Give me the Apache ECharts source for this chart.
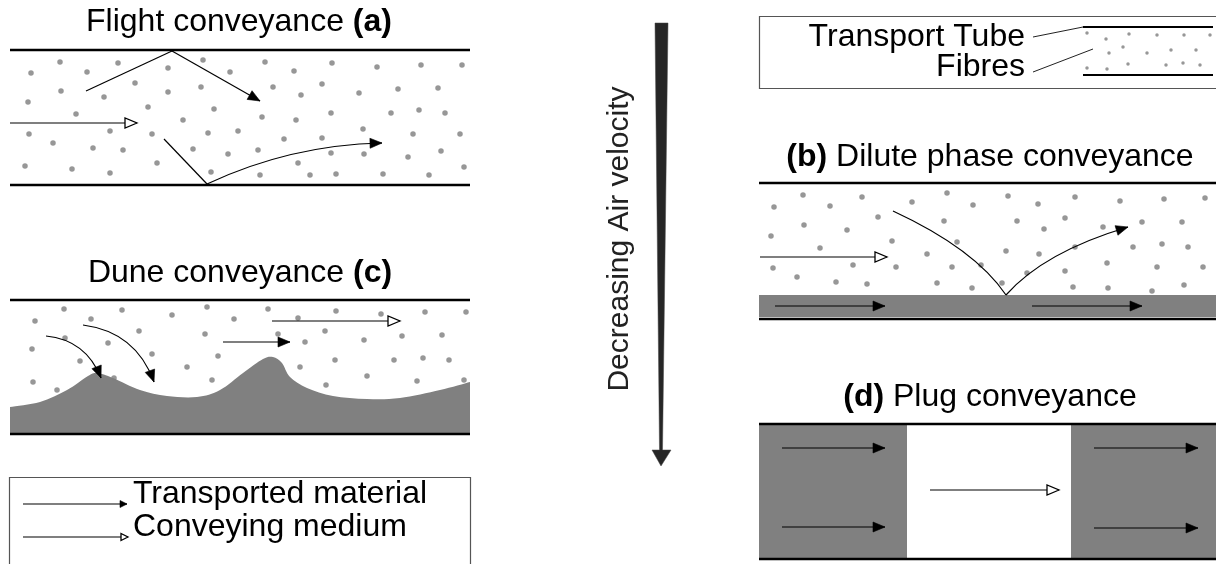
<!DOCTYPE html>
<html>
<head>
<meta charset="utf-8">
<script src="https://cdn.jsdelivr.net/npm/echarts@6/dist/echarts.min.js"></script>
<style>
  html, body { margin: 0; padding: 0; background: #fff; }
  #charts { width: 1216px; height: 564px; }
</style>
</head>
<body>
<div id="charts"></div>
<script>
// diagram coordinates: x to the right, y downwards (picture units)
const tubeWalls = [
    [10, 50, 470, 50], [10, 185, 470, 185],        // (a)
    [10, 300, 470, 300], [10, 434, 470, 434],      // (c)
    [759, 183, 1216, 183], [759, 319, 1216, 319],  // (b)
    [759, 424, 1216, 424], [759, 559, 1216, 559]   // (d)
];
const keyWalls = [[1083, 27, 1213, 27], [1083, 75, 1213, 75]];
const leaderLines = [[1033, 37, 1083, 27], [1033, 72, 1093, 49]];
const frames = [[9, 477, 470, 590], [759, 16, 1230, 88]];

const flightDots = [
    [60, 62], [31, 73], [87, 72], [118, 63], [168, 68], [203, 60], [230, 72], [265, 62], [294, 71], [332, 63], [377, 67], [421, 65], [462, 65],
    [61, 91], [28, 102], [104, 97], [135, 83], [168, 92], [201, 87], [273, 87], [301, 95], [322, 84], [359, 93], [398, 89], [438, 88],
    [76, 114], [148, 107], [214, 109], [183, 120], [262, 117], [296, 120], [331, 113], [391, 113], [419, 110], [445, 113],
    [29, 134], [110, 131], [152, 134], [208, 133], [238, 131], [284, 139], [322, 138], [363, 129], [413, 134], [460, 134],
    [53, 143], [93, 148], [123, 150], [193, 149], [228, 154], [258, 150], [331, 153], [364, 154], [408, 157], [441, 151],
    [25, 166], [72, 169], [110, 173], [157, 163], [211, 172], [260, 175], [298, 163], [310, 175], [336, 174], [383, 174], [429, 175], [464, 167]
];
const duneDots = [
    [64, 309], [35, 321], [91, 319], [122, 310], [172, 315], [207, 307], [234, 319], [268, 309], [298, 318], [336, 311], [381, 314], [425, 312], [466, 312],
    [32, 349], [65, 338], [108, 343], [139, 331], [205, 334], [278, 334], [305, 342], [325, 331], [364, 340], [402, 336], [442, 335],
    [80, 361], [152, 354], [187, 367], [218, 356], [300, 367], [335, 360], [394, 360], [423, 358], [449, 360],
    [33, 382], [57, 390], [114, 378], [212, 380], [367, 376], [417, 381], [326, 385], [464, 380]
];
const diluteDots = [
    [803, 195], [774, 207], [830, 206], [862, 197], [912, 202], [947, 193], [973, 205], [1008, 196], [1038, 204], [1075, 197], [1120, 201], [1164, 199], [1205, 198],
    [804, 225], [771, 236], [847, 230], [878, 217], [944, 221], [1017, 221], [1044, 229], [1065, 218], [1103, 227], [1142, 222], [1182, 222],
    [820, 248], [892, 241], [927, 254], [957, 242], [1006, 251], [1039, 254], [1075, 247], [1133, 247], [1162, 244], [1188, 247],
    [773, 268], [853, 265], [896, 267], [952, 267], [981, 265], [1027, 273], [1065, 271], [1107, 263], [1157, 267], [1203, 267],
    [797, 277], [836, 282], [867, 284], [937, 283], [972, 288], [1002, 283], [1073, 287], [1108, 288], [1152, 291], [1184, 285]
];
const keyDots = [
    [1087, 33], [1106, 39], [1129, 34], [1157, 35], [1184, 35], [1210, 35],
    [1109, 53], [1123, 47], [1147, 53], [1171, 50], [1196, 50],
    [1087, 68], [1107, 69], [1128, 64], [1166, 65], [1183, 63], [1200, 65]
];

// dune surface, left to right
const duneTop = [
    [10, 407], [40, 402], [67, 390], [88, 376], [97, 373], [113, 378], [140, 390], [167, 396], [197, 397],
    [220, 390], [243, 373], [263, 359], [273, 357], [282, 363], [290, 377], [307, 388], [333, 396],
    [367, 399], [400, 398], [440, 390], [470, 382]
];
const duneFloor = 434;
const greyRects = [[759, 295, 1216, 317], [759, 424, 907, 559], [1071, 424, 1216, 559]];
const velocityArrow = [[655, 23], [668, 23], [662.5, 450], [671, 450], [661, 466], [652, 450], [659.5, 450]];

// arrows: [head, start, segments...]  L = straight, Q = quadratic curve (control, end)
const arrows = [
    ['solid', [86, 91], ['L', 172, 51], ['L', 260, 101]],
    ['open', [10, 123], ['L', 137, 123]],
    ['solid', [164, 139], ['L', 207, 184], ['Q', 290, 145, 382, 143]],
    ['solid', [46, 336], ['Q', 86, 340, 101, 378]],
    ['solid', [83, 325], ['Q', 136, 332, 154, 382]],
    ['solid', [223, 342], ['L', 290, 342]],
    ['open', [272, 321], ['L', 400, 321]],
    ['open', [760, 257], ['L', 887, 257]],
    ['solid', [893, 211], ['Q', 975, 249, 1006, 295], ['Q', 1044, 252, 1128, 227]],
    ['solid', [775, 306], ['L', 885, 306]],
    ['solid', [1032, 306], ['L', 1142, 306]],
    ['solid', [782, 448], ['L', 885, 448]],
    ['solid', [782, 527], ['L', 885, 527]],
    ['solid', [1094, 448], ['L', 1198, 448]],
    ['solid', [1094, 528], ['L', 1198, 528]],
    ['open', [930, 490], ['L', 1059, 490]]
];
const legendArrows = [
    ['solid', [23, 504], ['L', 127, 504]],
    ['open', [23, 537], ['L', 128, 537]]
];

const labels = [
    [239, 22, 'Flight conveyance {b|(a)}', 'center'],
    [240, 273, 'Dune conveyance {b|(c)}', 'center'],
    [990, 157, '{b|(b)} Dilute phase conveyance', 'center'],
    [990, 397, '{b|(d)} Plug conveyance', 'center'],
    [133, 494, 'Transported material', 'left'],
    [133, 527, 'Conveying medium', 'left'],
    [1025, 37, 'Transport Tube', 'right'],
    [1025, 67, 'Fibres', 'right']
];
const sideLabel = [620, 239, 'Decreasing Air velocity'];

const FONT = '"Liberation Sans", Arial, sans-serif';
const FONT_SIZE = 32;

function segRender(width, color) {
    return function (params, api) {
        const a = api.coord([api.value(0), api.value(1)]);
        const b = api.coord([api.value(2), api.value(3)]);
        return {
            type: 'line',
            shape: { x1: a[0], y1: a[1], x2: b[0], y2: b[1] },
            style: { stroke: color, lineWidth: width }
        };
    };
}

function arrowHead(tip, from, len, half, open) {
    const dx = tip[0] - from[0], dy = tip[1] - from[1];
    const d = Math.hypot(dx, dy) || 1;
    const ux = dx / d, uy = dy / d;
    const bx = tip[0] - ux * len, by = tip[1] - uy * len;
    return {
        type: 'polygon',
        shape: { points: [tip, [bx - uy * half, by + ux * half], [bx + uy * half, by - ux * half]] },
        style: { fill: open ? '#fff' : '#000', stroke: '#000', lineWidth: open ? 1.3 : 0.6 }
    };
}

function arrowRender(list, len, half) {
    return function (params, api) {
        const arr = list[params.dataIndex];
        let cur = api.coord(arr[1]);
        let prev = cur;
        const children = [];
        for (let i = 2; i < arr.length; i++) {
            const s = arr[i];
            if (s[0] === 'L') {
                const p = api.coord([s[1], s[2]]);
                children.push({
                    type: 'line',
                    shape: { x1: cur[0], y1: cur[1], x2: p[0], y2: p[1] },
                    style: { stroke: '#000', lineWidth: 1.2 }
                });
                prev = cur; cur = p;
            } else {
                const c = api.coord([s[1], s[2]]);
                const p = api.coord([s[3], s[4]]);
                children.push({
                    type: 'bezierCurve',
                    shape: { x1: cur[0], y1: cur[1], cpx1: c[0], cpy1: c[1], x2: p[0], y2: p[1] },
                    style: { stroke: '#000', fill: 'none', lineWidth: 1.2 }
                });
                prev = c; cur = p;
            }
        }
        children.push(arrowHead(cur, prev, len, half, arr[0] === 'open'));
        return { type: 'group', children: children };
    };
}

// smooth outline through the dune points (catmull-rom as cubic beziers)
function duneRender(params, api) {
    const p = duneTop.map(function (q) { return api.coord(q); });
    let d = 'M' + p[0][0] + ',' + p[0][1];
    for (let i = 0; i < p.length - 1; i++) {
        const p0 = p[Math.max(i - 1, 0)], p1 = p[i], p2 = p[i + 1], p3 = p[Math.min(i + 2, p.length - 1)];
        const c1 = [p1[0] + (p2[0] - p0[0]) / 6, p1[1] + (p2[1] - p0[1]) / 6];
        const c2 = [p2[0] - (p3[0] - p1[0]) / 6, p2[1] - (p3[1] - p1[1]) / 6];
        d += 'C' + c1[0] + ',' + c1[1] + ',' + c2[0] + ',' + c2[1] + ',' + p2[0] + ',' + p2[1];
    }
    const br = api.coord([duneTop[duneTop.length - 1][0], duneFloor]);
    const bl = api.coord([duneTop[0][0], duneFloor]);
    d += 'L' + br[0] + ',' + br[1] + 'L' + bl[0] + ',' + bl[1] + 'Z';
    return { type: 'path', shape: { pathData: d }, style: { fill: '#808080', stroke: 'none' } };
}

function rectRender(params, api) {
    const a = api.coord([api.value(0), api.value(1)]);
    const b = api.coord([api.value(2), api.value(3)]);
    return {
        type: 'rect',
        shape: { x: a[0], y: a[1], width: b[0] - a[0], height: b[1] - a[1] },
        style: { fill: '#808080' }
    };
}

function frameRender(params, api) {
    const a = api.coord([api.value(0), api.value(1)]);
    const b = api.coord([api.value(2), api.value(3)]);
    return {
        type: 'rect',
        shape: { x: a[0] + 0.5, y: a[1] + 0.5, width: b[0] - a[0], height: b[1] - a[1] },
        style: { fill: 'none', stroke: '#555', lineWidth: 1.2 }
    };
}

function labelRender(params, api) {
    const l = labels[params.dataIndex];
    const p = api.coord([l[0], l[1]]);
    return {
        type: 'text',
        x: p[0], y: p[1],
        style: {
            text: l[2], fill: '#000', fontSize: FONT_SIZE, fontFamily: FONT,
            align: l[3], verticalAlign: 'middle',
            rich: { b: { fontSize: FONT_SIZE, fontFamily: FONT, fontWeight: 'bold', fill: '#000' } }
        }
    };
}

function sideRender(params, api) {
    const p = api.coord([sideLabel[0], sideLabel[1]]);
    return {
        type: 'text',
        x: p[0], y: p[1], rotation: Math.PI / 2,
        style: { text: sideLabel[2], fill: '#222', fontSize: 30, fontFamily: FONT, align: 'center', verticalAlign: 'middle' }
    };
}

function dotSeries(data, size) {
    return {
        type: 'scatter', data: data, symbol: 'circle', symbolSize: size,
        itemStyle: { color: '#7d7d7d' }, silent: true, z: 3
    };
}

const option = {
    animation: false,
    backgroundColor: '#fff',
    grid: { left: 0, right: 0, top: 0, bottom: 0 },
    xAxis: { type: 'value', min: 0, max: 1216, show: false },
    yAxis: { type: 'value', min: 0, max: 564, inverse: true, show: false },
    series: [
        { type: 'custom', renderItem: frameRender, data: frames, silent: true, z: 1 },
        { type: 'custom', renderItem: duneRender, data: [[10, 434]], silent: true, z: 2 },
        { type: 'custom', renderItem: rectRender, data: greyRects, silent: true, z: 2 },
        {
            type: 'custom', silent: true, z: 2, data: [velocityArrow[0]],
            renderItem: function (params, api) {
                return {
                    type: 'polygon',
                    shape: { points: velocityArrow.map(function (q) { return api.coord(q); }) },
                    style: { fill: '#262626', stroke: '#444', lineWidth: 0.5 }
                };
            }
        },
        dotSeries(flightDots, 5.5),
        dotSeries(duneDots, 5.5),
        dotSeries(diluteDots, 5.5),
        dotSeries(keyDots, 3.5),
        { type: 'custom', renderItem: segRender(2.5, '#000'), data: tubeWalls, silent: true, z: 4 },
        { type: 'custom', renderItem: segRender(2, '#000'), data: keyWalls, silent: true, z: 4 },
        { type: 'custom', renderItem: segRender(1, '#222'), data: leaderLines, silent: true, z: 4 },
        { type: 'custom', renderItem: arrowRender(arrows, 12, 5), data: arrows.map(function (a) { return a[1]; }), silent: true, z: 5 },
        { type: 'custom', renderItem: arrowRender(legendArrows, 7, 3.5), data: legendArrows.map(function (a) { return a[1]; }), silent: true, z: 5 },
        { type: 'custom', renderItem: labelRender, data: labels.map(function (l) { return [l[0], l[1]]; }), silent: true, z: 6 },
        { type: 'custom', renderItem: sideRender, data: [[sideLabel[0], sideLabel[1]]], silent: true, z: 6 }
    ]
};

const chart = echarts.init(document.getElementById('charts'));
chart.setOption(option);
</script>
</body>
</html>
